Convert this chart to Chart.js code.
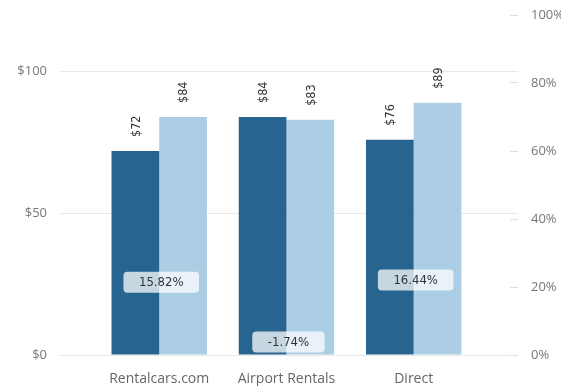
<!DOCTYPE html>
<html>
<head>
<meta charset="utf-8">
<script src="https://cdn.jsdelivr.net/npm/chart.js@4.4.0/dist/chart.umd.min.js"></script>
<style>
  html, body { margin:0; padding:0; background:#fff; }
</style>
</head>
<body>
<canvas id="chart" width="561" height="386"></canvas>
<script>
// Average daily rate by booking channel, prior vs current, with % change
const categories   = ['Rentalcars.com', 'Airport Rentals', 'Direct'];
const priorPrice   = [72, 84, 76];
const currentPrice = [84, 83, 89];
const priceChange  = [15.82, -1.74, 16.44];

const AXIS_FONT  = 'Open Sans';
const LABEL_FONT = '"DejaVu Sans Condensed", "DejaVu Sans", sans-serif';

const toPoints = arr => arr.map((v, i) => ({ x: i, y: v }));

// keep the plot area fixed: no extra room reserved for edge tick labels
const noEdgePadding = s => {
  s.paddingTop = 0; s.paddingBottom = 0;
  s.paddingLeft = 0; s.paddingRight = 0;
};

// Rotated $ labels above bars + rounded badges for the change line
const valueLabels = {
  id: 'valueLabels',
  afterDatasetsDraw(chart) {
    const ctx = chart.ctx;
    ctx.save();
    ctx.font = '12.5px ' + LABEL_FONT;
    ctx.fillStyle = '#333';
    ctx.textAlign = 'left';
    ctx.textBaseline = 'middle';
    [0, 1].forEach(di => {
      const src = chart.data.datasets[di].data;
      chart.getDatasetMeta(di).data.forEach((bar, i) => {
        ctx.save();
        ctx.translate(bar.x + 1, bar.y - 14);
        ctx.rotate(-Math.PI / 2);
        ctx.fillText('$' + src[i].y, 0, 0);
        ctx.restore();
      });
    });

    ctx.font = '13px ' + LABEL_FONT;
    ctx.textAlign = 'center';
    chart.getDatasetMeta(2).data.forEach((pt, i) => {
      const txt = priceChange[i].toFixed(2) + '%';
      const w = ctx.measureText(txt).width + 31;
      const cx = pt.x + 2, cy = pt.y - 19;
      ctx.fillStyle = 'rgba(255,255,255,0.74)';
      ctx.beginPath();
      ctx.roundRect(cx - w / 2, cy - 10.5, w, 21, 4);
      ctx.fill();
      ctx.fillStyle = '#333';
      ctx.fillText(txt, cx, cy + 0.5);
    });
    ctx.restore();
  }
};

new Chart(document.getElementById('chart'), {
  type: 'bar',
  data: {
    datasets: [
      { label: 'Prior', data: toPoints(priorPrice), backgroundColor: '#27648f',
        yAxisID: 'y', categoryPercentage: 0.75, barPercentage: 1 },
      { label: 'Current', data: toPoints(currentPrice), backgroundColor: '#abcee4',
        yAxisID: 'y', categoryPercentage: 0.75, barPercentage: 1 },
      { type: 'line', label: 'Change', data: toPoints(priceChange), yAxisID: 'y1',
        showLine: false, pointRadius: 0, pointHoverRadius: 0 }
    ]
  },
  options: {
    responsive: false,
    animation: false,
    layout: { autoPadding: false, padding: { top: 15, left: 0, right: 0, bottom: 0 } },
    plugins: { legend: { display: false }, tooltip: { enabled: false } },
    scales: {
      x: {
        type: 'linear',
        offset: false,
        min: -0.78, max: 2.82,
        grid: { display: false, drawTicks: false },
        border: { display: false },
        ticks: {
          stepSize: 1, includeBounds: false, autoSkip: false, maxRotation: 0,
          callback: v => categories[v] ?? '',
          color: '#666', font: { family: AXIS_FONT, size: 14 }, padding: 16
        },
        afterFit: s => { s.height = 31; noEdgePadding(s); }
      },
      y: {
        position: 'left',
        min: 0, max: 120,
        grid: { color: '#e8e8e8', drawTicks: false },
        border: { display: false },
        ticks: {
          stepSize: 50, includeBounds: false,
          callback: v => '$' + v,
          color: '#777', font: { family: AXIS_FONT, size: 13 }, padding: 13
        },
        afterFit: s => { s.width = 60; noEdgePadding(s); }
      },
      y1: {
        position: 'right',
        min: 0, max: 100,
        grid: { drawOnChartArea: false, tickLength: -8, color: '#dcdcdc' },
        border: { display: false },
        ticks: {
          stepSize: 20,
          callback: v => v + '%',
          color: '#777', font: { family: AXIS_FONT, size: 13 }, padding: 21
        },
        afterFit: s => { s.width = 43; noEdgePadding(s); }
      }
    }
  },
  plugins: [valueLabels]
});
</script>
</body>
</html>
